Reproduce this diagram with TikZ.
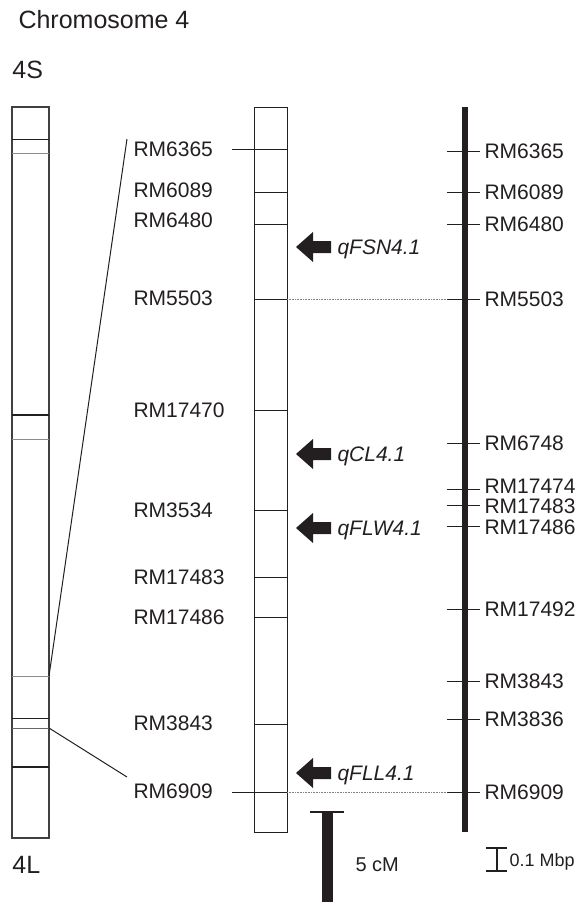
\documentclass[tikz,border=0pt]{standalone}
\usepackage{fontspec}
\setmainfont{Liberation Sans}
\definecolor{ink}{HTML}{231F20}
\newcommand{\qtlarrow}[1]{\fill[ink] (#1) -- ++(17,-15) -- ++(0,9) -- ++(18,0) -- ++(0,12) -- ++(-18,0) -- ++(0,9) -- cycle;}
\begin{document}
\begin{tikzpicture}[x=1pt,y=-1pt,line width=1pt,
	rmlabel/.style={anchor=west,inner sep=0pt,text depth=0pt,text=ink,font=\fontsize{21}{21}\selectfont},
	qtllabel/.style={rmlabel,font=\fontsize{21}{21}\selectfont\itshape},
	headlabel/.style={rmlabel,font=\fontsize{25}{25}\selectfont},
	band/.style={draw=ink},
	faintband/.style={draw=black!45},
	guide/.style={densely dotted,line width=0.6pt,draw=black!50}]
	\useasboundingbox (0,0) rectangle (577,902);
	% headings
	\node[headlabel] (title) at (18,19) {Chromosome 4};
	\node[headlabel] (short) at (12,70) {4S};
	\node[headlabel] (long) at (12,865) {4L};
	% whole chromosome
	\draw[black!75,line width=1.2pt] (12,107) rectangle (49,838);
	\draw[band] (12,139)--(49,139);
	\draw[faintband] (12,153)--(49,153);
	\draw[band,line width=1.6pt] (12,415)--(49,415);
	\draw[faintband] (12,439)--(49,439);
	\draw[faintband] (12,676)--(49,676);
	\draw[band] (12,718)--(49,718);
	\draw[black!60] (12,728)--(49,728);
	\draw[band,line width=1.6pt] (12,767)--(49,767);
	\coordinate (zoomtop) at (49,676);
	\coordinate (zoombot) at (49,728);
	% linkage map
	\draw[ink] (254,107) rectangle (287,832);
	\node[rmlabel] (l6365) at (133,149) {RM6365};
	\node[rmlabel] (l6089) at (133,190) {RM6089};
	\node[rmlabel] (l6480) at (133,220) {RM6480};
	\node[rmlabel] (l5503) at (133,298) {RM5503};
	\node[rmlabel] (l17470) at (133,410) {RM17470};
	\node[rmlabel] (l3534) at (133,510) {RM3534};
	\node[rmlabel] (l17483) at (133,577) {RM17483};
	\node[rmlabel] (l17486) at (133,617) {RM17486};
	\node[rmlabel] (l3843) at (133,723) {RM3843};
	\node[rmlabel] (l6909) at (133,791) {RM6909};
	\draw[ink] (232,149)--(287,149);
	\draw[ink] (254,192)--(287,192);
	\draw[ink] (254,224)--(287,224);
	\draw[ink] (254,299)--(287,299);
	\draw[ink] (254,410)--(287,410);
	\draw[ink] (254,510)--(287,510);
	\draw[ink] (254,577)--(287,577);
	\draw[ink] (254,617)--(287,617);
	\draw[ink] (254,724)--(287,724);
	\draw[ink] (232,792)--(287,792);
	% zoom lines
	\coordinate (zoomtopend) at (127,139);
	\coordinate (zoombotend) at (127,777);
	\draw[ink] (zoomtop)--(zoomtopend);
	\draw[ink] (zoombot)--(zoombotend);
	% QTLs
	\coordinate (fsn) at (296,247);
	\coordinate (cl) at (296,454);
	\coordinate (flw) at (296,528);
	\coordinate (fll) at (296,773);
	\qtlarrow{fsn}
	\qtlarrow{cl}
	\qtlarrow{flw}
	\qtlarrow{fll}
	\node[qtllabel] (qfsn) at (337,247) {qFSN4.1};
	\node[qtllabel] (qcl) at (337,454) {qCL4.1};
	\node[qtllabel] (qflw) at (337,528) {qFLW4.1};
	\node[qtllabel] (qfll) at (337,773) {qFLL4.1};
	% physical map
	\fill[ink] (462,107) rectangle (468,832);
	\draw[ink] (447,151)--(480,151) node[rmlabel,xshift=4pt] (p6365) {RM6365};
	\draw[ink] (447,192)--(480,192) node[rmlabel,xshift=4pt] (p6089) {RM6089};
	\draw[ink] (447,224)--(480,224) node[rmlabel,xshift=4pt] (p6480) {RM6480};
	\draw[ink] (447,299)--(480,299) node[rmlabel,xshift=4pt] (p5503) {RM5503};
	\draw[ink] (447,443)--(480,443) node[rmlabel,xshift=4pt] (p6748) {RM6748};
	\draw[ink] (447,489)--(480,489) node[rmlabel,xshift=4pt,yshift=3pt] (p17474) {RM17474};
	\draw[ink] (447,505)--(480,505) node[rmlabel,xshift=4pt,yshift=-1pt] (p17483) {RM17483};
	\draw[ink] (447,526)--(480,526) node[rmlabel,xshift=4pt,yshift=-1pt] (p17486) {RM17486};
	\draw[ink] (447,609)--(480,609) node[rmlabel,xshift=4pt] (p17492) {RM17492};
	\draw[ink] (447,681)--(480,681) node[rmlabel,xshift=4pt] (p3843) {RM3843};
	\draw[ink] (447,719)--(480,719) node[rmlabel,xshift=4pt] (p3836) {RM3836};
	\draw[ink] (447,792)--(480,792) node[rmlabel,xshift=4pt] (p6909) {RM6909};
	% anchors between the maps
	\draw[guide] (287,299)--(447,299);
	\draw[guide] (287,792)--(447,792);
	% scale bars
	\fill[ink] (322,812) rectangle (333,902);
	\draw[ink,line width=1.3pt] (310,812)--(344,812);
	\node[rmlabel,font=\fontsize{20}{20}\selectfont] (cm) at (355,865) {5 cM};
	\draw[ink,line width=2.5pt] (497,848)--(497,871);
	\draw[ink,line width=1.2pt] (486,848)--(507,848);
	\draw[ink,line width=1.2pt] (486,871)--(507,871);
	\node[rmlabel,font=\fontsize{18}{18}\selectfont] (mbp) at (509,860) {0.1 Mbp};
\end{tikzpicture}
\end{document}
